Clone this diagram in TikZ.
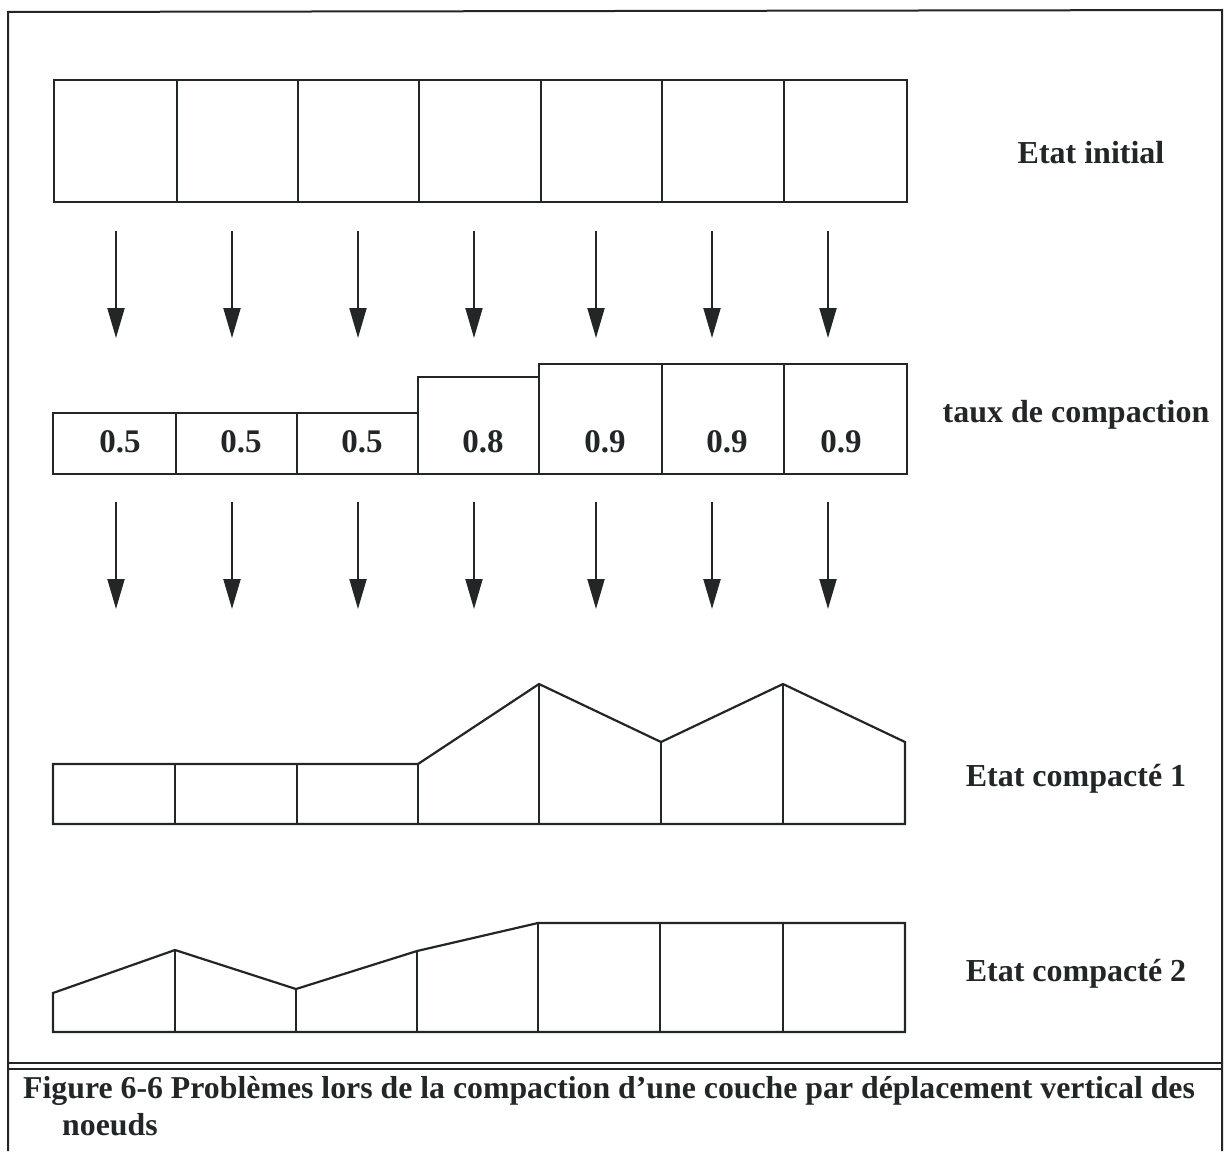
\documentclass[tikz,border=0pt]{standalone}
\usepackage{fontspec}
\setmainfont{Liberation Serif}
\usetikzlibrary{arrows.meta}
\definecolor{ink}{HTML}{222626}
\tikzset{
  frameline/.style={line width=2pt, draw=ink},
  cellline/.style={line width=2.2pt, draw=ink, line join=miter},
  downarrow/.style={line width=2pt, draw=ink, -{Triangle[width=17pt,length=30pt]}, fill=ink},
  lbl/.style={font=\fontsize{32}{37}\selectfont\bfseries, text=ink, inner sep=0pt, anchor=base},
  num/.style={font=\fontsize{33}{38}\selectfont\bfseries, text=ink, inner sep=0pt, anchor=base}
}
\begin{document}
\begin{tikzpicture}[x=1pt,y=-1pt]
\useasboundingbox (0,0) rectangle (1225,1151);
% outer frame
\draw[frameline] (8,1151) -- (8,12) -- (1222,10) -- (1222,1151);
\draw[frameline] (8,1063) -- (1222,1063);
\draw[frameline] (8,1069) -- (1222,1069);

% row 1: initial state
\draw[cellline] (54,80) rectangle (907,202);
\foreach \x in {177,298,419,541,662,784} \draw[cellline] (\x,80) -- (\x,202);
\node[lbl] (l1) at (1091,163) {Etat initial};

% arrows row 1
\foreach \x [count=\i] in {116,232,358,474,596,712,828} {
  \coordinate (a\i) at (\x,231);
  \coordinate (b\i) at (\x,338);
  \draw[downarrow] (a\i) -- (b\i);
}

% row 2: compaction ratio
\draw[cellline] (53,474) -- (53,413) -- (418,413) -- (418,377) -- (539,377) -- (539,364) -- (907,364) -- (907,474) -- cycle;
\foreach \x/\t in {176/413,297/413,418/413,539/377,662/364,784/364} \draw[cellline] (\x,\t) -- (\x,474);
\foreach \x/\v [count=\i] in {120/0.5,241/0.5,362/0.5,483/0.8,605/0.9,727/0.9,841/0.9}
  \node[num] (n\i) at (\x,452) {\v};
\node[lbl] (l2) at (1076,422) {taux de compaction};

% arrows row 2
\foreach \x [count=\i] in {116,232,358,474,596,712,828} {
  \coordinate (c\i) at (\x,502);
  \coordinate (d\i) at (\x,609);
  \draw[downarrow] (c\i) -- (d\i);
}

% row 3: compacted state 1
\draw[cellline] (53,824) -- (53,764) -- (175,764) -- (297,764) -- (418,764) -- (539,684) -- (661,742) -- (783,684) -- (905,742) -- (905,824) -- cycle;
\foreach \x/\t in {175/764,297/764,418/764,539/684,661/742,783/684} \draw[cellline] (\x,\t) -- (\x,824);
\node[lbl] (l3) at (1076,786) {Etat compacté 1};

% row 4: compacted state 2
\draw[cellline] (53,1032) -- (53,993) -- (175,950) -- (296,989) -- (417,951) -- (538,923) -- (660,923) -- (783,923) -- (905,923) -- (905,1032) -- cycle;
\foreach \x/\t in {175/950,296/989,417/951,538/923,660/923,783/923} \draw[cellline] (\x,\t) -- (\x,1032);
\node[lbl] (l4) at (1076,981) {Etat compacté 2};

% caption
\node[lbl, anchor=base west, font=\fontsize{31.8}{37}\selectfont\bfseries] (cap1) at (23,1098) {Figure 6-6 Problèmes lors de la compaction d’une couche par déplacement vertical des};
\node[lbl, anchor=base west, font=\fontsize{31.8}{37}\selectfont\bfseries] (cap2) at (62,1135) {noeuds};
\end{tikzpicture}
\end{document}
